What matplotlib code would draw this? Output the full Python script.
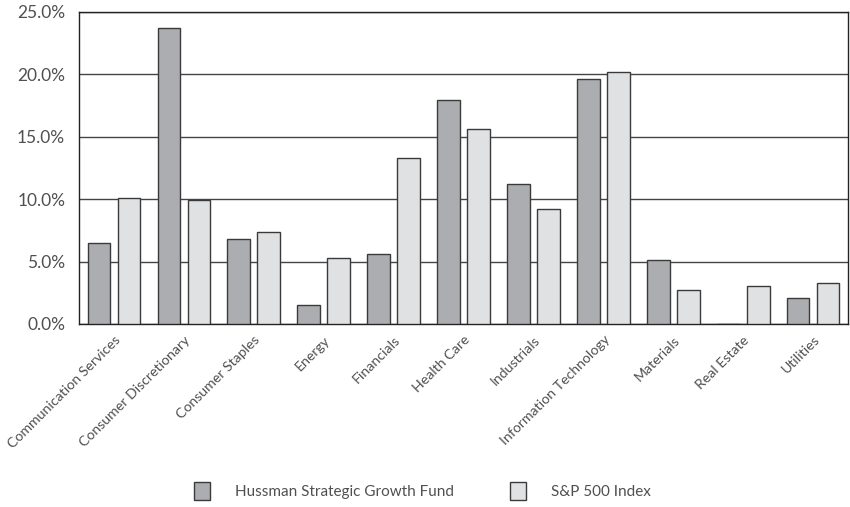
import matplotlib
matplotlib.use("Agg")
import numpy as np
from matplotlib import pyplot as plt
from matplotlib.ticker import FuncFormatter

sectors = ["Communication Services", "Consumer Discretionary", "Consumer Staples",
           "Energy", "Financials", "Health Care", "Industrials",
           "Information Technology", "Materials", "Real Estate", "Utilities"]
fund = [6.5, 23.7, 6.8, 1.5, 5.6, 17.9, 11.2, 19.6, 5.1, 0.0, 2.1]
spx = [10.1, 9.9, 7.4, 5.3, 13.3, 15.6, 9.2, 20.2, 2.7, 3.0, 3.3]
yticks = [0, 5, 10, 15, 20, 25]

plt.rcParams['font.family'] = ['Lato', 'DejaVu Sans']
txt = '#505050'
edge = '#3a3a3a'

fig = plt.figure(figsize=(8.5, 5.07), dpi=100)
ax = fig.add_axes([0.093, 0.361, 0.9047, 0.616])

x = np.arange(len(sectors))
w = 0.325
ax.bar(x - 0.215, fund, w, color='#acadb0', edgecolor=edge, linewidth=1.0,
       label='Hussman Strategic Growth Fund', zorder=3)
ax.bar(x + 0.215, spx, w, color='#e0e1e3', edgecolor=edge, linewidth=1.0,
       label='S&P 500 Index', zorder=3)

ax.set_xlim(-0.5, len(sectors) - 0.5)
ax.set_ylim(0, 25)
ax.set_yticks(yticks)
ax.yaxis.set_major_formatter(FuncFormatter(lambda v, p: '%.1f%%' % v))
ax.grid(axis='y', color='#444444', linewidth=1.0, zorder=0)
for s in ax.spines.values():
    s.set_color('#222222')
    s.set_linewidth(1.0)

ax.set_xticks(x)
ax.set_xticklabels(sectors, rotation=45, ha='right', rotation_mode='anchor',
                   fontsize=10.2, color=txt)
ax.tick_params(axis='x', length=0, pad=7)
ax.tick_params(axis='y', length=0, pad=10, labelsize=12.5, labelcolor=txt)

fig.legend(loc='center', bbox_to_anchor=(0.497, 1 - 491 / 507), ncol=2,
           frameon=False, handlelength=1.05, handleheight=1.5,
           columnspacing=3.7, handletextpad=1.6,
           prop={'size': 11}, labelcolor=txt)

fig.savefig('out.png', dpi=100)
